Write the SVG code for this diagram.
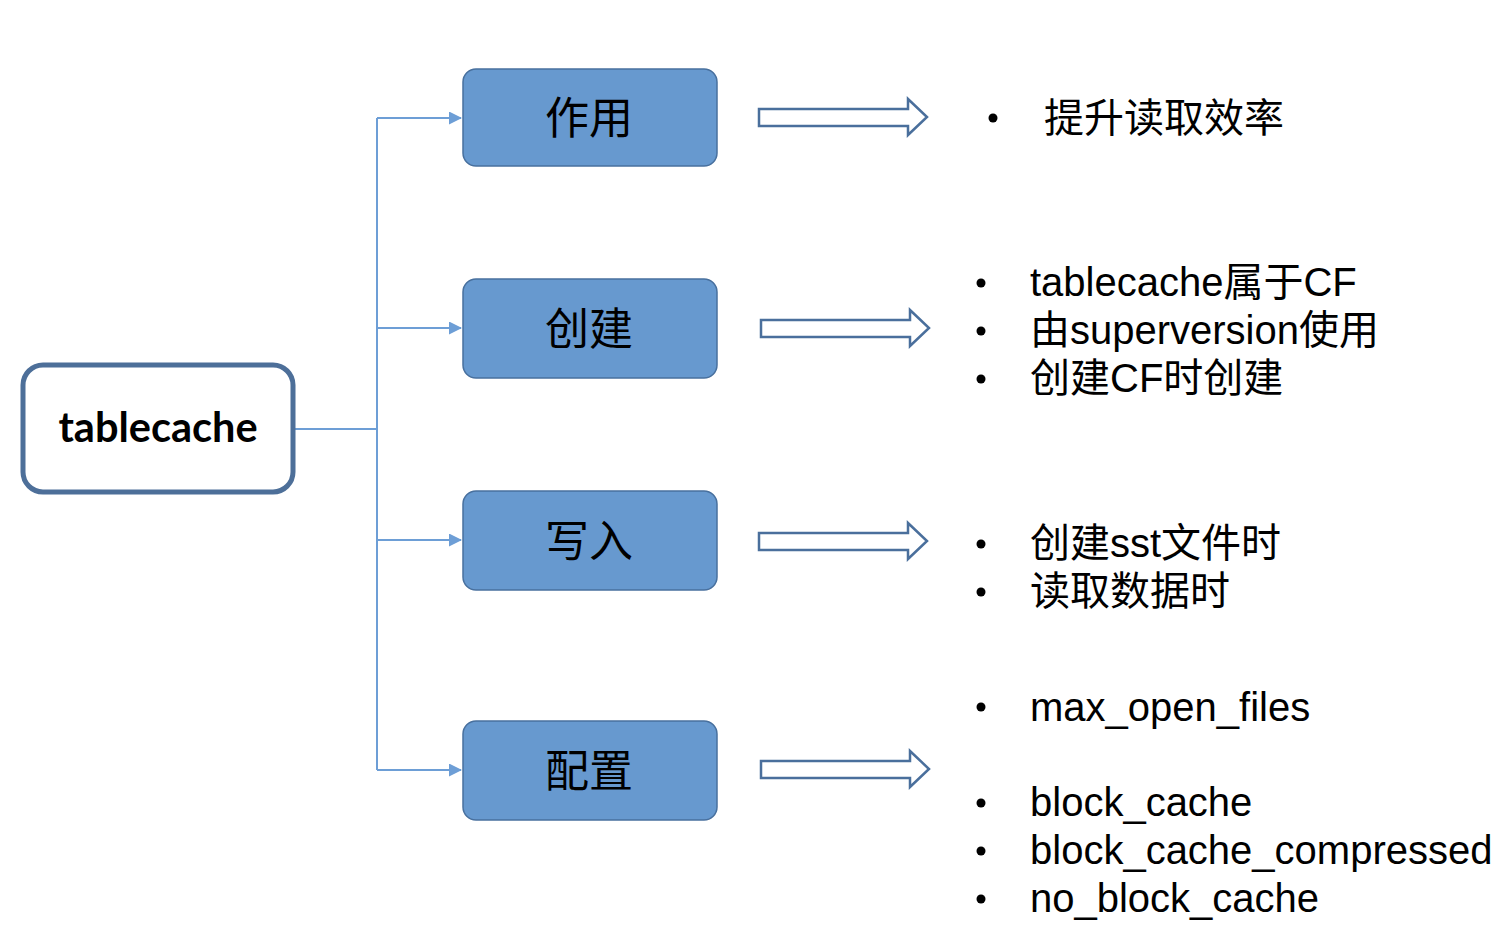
<svg xmlns="http://www.w3.org/2000/svg" width="1512" height="942" viewBox="0 0 1512 942">
<style>
.box{fill:#6799cf;stroke:#48709e;stroke-width:1.5}
.bt{font-family:"Noto Sans CJK SC",sans-serif;font-size:44px;fill:#000;text-anchor:middle}
.conn{fill:none;stroke:#6d9ed6;stroke-width:2}
.barrow{fill:#fff;stroke:#4a6f9c;stroke-width:2.5;stroke-linejoin:miter}
.li{font-family:"Liberation Sans","Noto Sans CJK SC",sans-serif;font-size:40px;fill:#000}
</style>
<defs>
<marker id="ah" markerWidth="13" markerHeight="13" refX="12" refY="6.5" orient="auto" markerUnits="userSpaceOnUse">
<path d="M0,0 L13,6.5 L0,13 Z" fill="#6d9ed6"/>
</marker>
</defs>
<rect width="1512" height="942" fill="#fff"/>
<g id="connectors">
<path class="conn" d="M294,429 H377"/>
<path class="conn" d="M377,118 V770"/>
<path class="conn" d="M377,118 H461" marker-end="url(#ah)"/>
<path class="conn" d="M377,328 H461" marker-end="url(#ah)"/>
<path class="conn" d="M377,540 H461" marker-end="url(#ah)"/>
<path class="conn" d="M377,770 H461" marker-end="url(#ah)"/>
</g>
<g id="root">
<rect x="23" y="365" width="270" height="127" rx="20" fill="#fff" stroke="#4d6f99" stroke-width="5"/>
<text x="158" y="442" font-family="Lato,'Open Sans',sans-serif" font-weight="bold" font-size="41.5" text-anchor="middle">tablecache</text>
</g>
<g id="n1">
<rect class="box" x="463" y="69" width="254" height="97" rx="13"/>
<text class="bt" x="589" y="134">作用</text>
</g>
<g id="n2">
<rect class="box" x="463" y="279" width="254" height="99" rx="13"/>
<text class="bt" x="589" y="345">创建</text>
</g>
<g id="n3">
<rect class="box" x="463" y="491" width="254" height="99" rx="13"/>
<text class="bt" x="589" y="557">写入</text>
</g>
<g id="n4">
<rect class="box" x="463" y="721" width="254" height="99" rx="13"/>
<text class="bt" x="589" y="787">配置</text>
</g>
<g id="arrows">
<path class="barrow" d="M759,109 H908 V99 L927,117 L908,135 V126 H759 Z"/>
<path class="barrow" d="M761,320 H910 V310 L929,328 L910,346 V337 H761 Z"/>
<path class="barrow" d="M759,533 H908 V523 L927,541 L908,559 V550 H759 Z"/>
<path class="barrow" d="M761,761 H910 V751 L929,769 L910,787 V778 H761 Z"/>
</g>
<g id="t1">
<circle cx="993" cy="118" r="4.5"/>
<text class="li" x="1044" y="132">提升读取效率</text>
</g>
<g id="t2">
<circle cx="981" cy="283" r="4.5"/>
<text class="li" x="1030" y="296">tablecache属于CF</text>
<circle cx="981" cy="331" r="4.5"/>
<text class="li" x="1030" y="344">由superversion使用</text>
<circle cx="981" cy="379" r="4.5"/>
<text class="li" x="1030" y="392">创建CF时创建</text>
</g>
<g id="t3">
<circle cx="981" cy="544" r="4.5"/>
<text class="li" x="1030" y="557">创建sst文件时</text>
<circle cx="981" cy="592" r="4.5"/>
<text class="li" x="1030" y="605">读取数据时</text>
</g>
<g id="t4">
<circle cx="981" cy="707" r="4.5"/>
<text class="li" x="1030" y="721">max_open_files</text>
<circle cx="981" cy="803" r="4.5"/>
<text class="li" x="1030" y="816">block_cache</text>
<circle cx="981" cy="851" r="4.5"/>
<text class="li" x="1030" y="864">block_cache_compressed</text>
<circle cx="981" cy="899" r="4.5"/>
<text class="li" x="1030" y="912">no_block_cache</text>
</g>
</svg>
